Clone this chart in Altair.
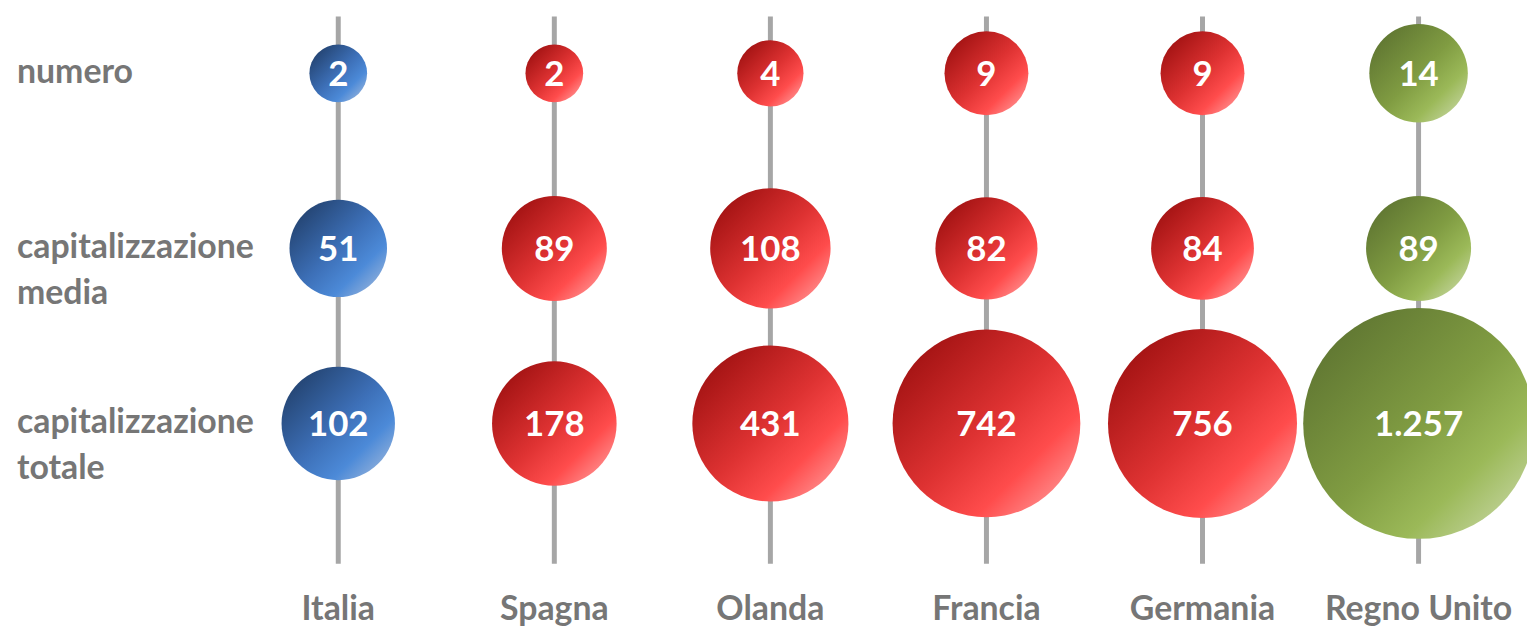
import altair as alt
import pandas as pd

# ---- data ----
countries = ["Italia", "Spagna", "Olanda", "Francia", "Germania", "Regno Unito"]
groups = ["blu", "rosso", "rosso", "rosso", "rosso", "verde"]
rows = ["numero", "capitalizzazione media", "capitalizzazione totale"]
row_labels = ["numero", "capitalizzazione|media", "capitalizzazione|totale"]
numero = [2, 2, 4, 9, 9, 14]
cap_media = [51, 89, 108, 82, 84, 89]
cap_totale = [102, 178, 431, 742, 756, 1257]

records = []
for r, vals in zip(rows, [numero, cap_media, cap_totale]):
    for c, g, v in zip(countries, groups, vals):
        records.append({"paese": c, "gruppo": g, "riga": r, "valore": v})
df = pd.DataFrame(records)
df_countries = pd.DataFrame({"paese": countries})
df_rows = pd.DataFrame({"riga": rows, "etichetta": row_labels})

# ---- styles ----
FONT = "Lato"
GRAY = "#767676"


def grad(stops):
    return {
        "gradient": "linear",
        "x1": 0, "y1": 0, "x2": 1, "y2": 1,
        "stops": [{"offset": o, "color": c} for o, c in stops],
    }


gradients = {
    "blu": grad([(0, "#1C365C"), (0.5, "#3D70B8"), (0.72, "#4C8AD8"), (1, "#B3C3DC")]),
    "rosso": grad([(0, "#900909"), (0.5, "#DE3232"), (0.72, "#FF4C4C"), (1, "#FFB3B3")]),
    "verde": grad([(0, "#566B2D"), (0.5, "#809C42"), (0.72, "#9BB958"), (1, "#D5E0BC")]),
}

# symbol size = (diameter)^2 in Vega
size_scales = {
    "numero": alt.Scale(type="linear", domain=[2, 14], range=[3364, 9801], zero=False),
    "capitalizzazione media": alt.Scale(type="pow", exponent=6, domain=[51, 108],
                                        range=[9604, 14641], zero=False),
    "capitalizzazione totale": alt.Scale(type="linear", domain=[102, 1257],
                                         range=[12996, 53824], zero=False),
}

x_enc = alt.X("paese:N", sort=countries, axis=None,
              scale=alt.Scale(type="point", range=[332, 1418], padding=0))
y_enc = alt.Y("riga:N", sort=rows, axis=None,
              scale=alt.Scale(type="point", range=[64, 416], padding=0))

rules = alt.Chart(df_countries).mark_rule(color="#A6A6A6", strokeWidth=5).encode(
    x=x_enc, y=alt.value(7), y2=alt.value(557)
)

circle_layers = []
for r in rows:
    for g in ["blu", "rosso", "verde"]:
        circle_layers.append(
            alt.Chart(df)
            .transform_filter((alt.datum.riga == r) & (alt.datum.gruppo == g))
            .mark_circle(fill=gradients[g], opacity=1)
            .encode(
                x=x_enc,
                y=y_enc,
                size=alt.Size("valore:Q", scale=size_scales[r], legend=None),
            )
        )

numbers = (
    alt.Chart(df)
    .transform_calculate(etichetta="replace(format(datum.valore, ','), ',', '.')")
    .mark_text(font=FONT, fontWeight="bold", fontSize=35, color="white",
               baseline="middle", dy=2)
    .encode(x=x_enc, y=y_enc, text="etichetta:N")
)

row_text = (
    alt.Chart(df_rows)
    .mark_text(font=FONT, fontWeight="bold", fontSize=34, color=GRAY,
               align="left", baseline="middle", lineBreak="|", lineHeight=46)
    .encode(x=alt.value(9), y=y_enc, text="etichetta:N")
)

country_text = (
    alt.Chart(df_countries)
    .mark_text(font=FONT, fontWeight="bold", fontSize=34, color=GRAY,
               align="center", baseline="middle")
    .encode(x=x_enc, y=alt.value(604), text="paese:N")
)

chart = (
    alt.layer(rules, *circle_layers, numbers, row_text, country_text)
    .resolve_scale(size="independent")
    .properties(width=1527, height=625, padding=0,
                autosize=alt.AutoSizeParams(type="none"), background="white")
    .configure_view(stroke=None)
)

chart.save("out.html", embed_options={"renderer": "svg", "actions": False})
